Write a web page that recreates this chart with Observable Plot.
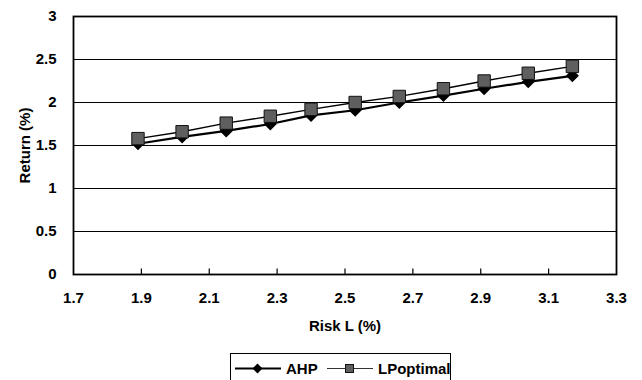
<!DOCTYPE html>
<html><head><meta charset="utf-8">
<script src="https://cdn.jsdelivr.net/npm/d3@7"></script>
<script src="https://cdn.jsdelivr.net/npm/@observablehq/plot@0.6"></script>
<style>
body{margin:0;background:#fff;overflow:hidden;}
#wrap{position:relative;width:642px;height:380px;font-family:"Liberation Sans",Arial,sans-serif;font-weight:bold;}
#legend{position:absolute;left:230px;top:353px;width:221px;height:40px;border:1.5px solid #000;box-sizing:border-box;background:#fff;}
#legend .item{position:absolute;top:5px;display:flex;align-items:center;font-size:15px;line-height:18px;}
#legend svg{display:block;}
</style>
</head><body>
<div id="wrap"><div id="chart"></div><div id="legend"></div></div>
<script>
const risk = [1.89, 2.02, 2.15, 2.28, 2.40, 2.53, 2.66, 2.79, 2.91, 3.04, 3.17];
const ahp = [1.52, 1.60, 1.67, 1.75, 1.85, 1.91, 2.00, 2.08, 2.16, 2.24, 2.31];
const lpOptimal = [1.58, 1.66, 1.76, 1.84, 1.92, 2.00, 2.07, 2.16, 2.25, 2.34, 2.42];
const seriesNames = ["AHP", "LPoptimal"];
const xTicks = [1.7, 1.9, 2.1, 2.3, 2.5, 2.7, 2.9, 3.1, 3.3];
const yTicks = [0, 0.5, 1, 1.5, 2, 2.5, 3];

const dataAHP = risk.map((x, i) => ({x, y: ahp[i], s: seriesNames[0]}));
const dataLP = risk.map((x, i) => ({x, y: lpOptimal[i], s: seriesNames[1]}));

const diamond = {draw(ctx, size){const r = Math.sqrt(size/Math.PI); ctx.moveTo(0,-r); ctx.lineTo(r,0); ctx.lineTo(0,r); ctx.lineTo(-r,0); ctx.closePath();}};
const square = {draw(ctx, size){const r = Math.sqrt(size/Math.PI); ctx.rect(-r,-r,2*r,2*r);}};

const font = '"Liberation Sans", Arial, sans-serif';
const chart = Plot.plot({
  width: 642, height: 348,
  marginTop: 16, marginBottom: 74, marginLeft: 73, marginRight: 26,
  x: {domain: [1.7, 3.3]},
  y: {domain: [0, 3]},
  style: {fontFamily: font, fontSize: "15px", fontWeight: "bold", color: "#000", background: "#fff"},
  marks: [
    Plot.ruleY(yTicks, {stroke: "#000", strokeWidth: 1.1}),
    Plot.ruleX(xTicks.slice(1, -1), {y1: 0, y2: 0.065, stroke: "#000", strokeWidth: 1.2}),
    Plot.frame({stroke: "#000", strokeWidth: 1.8}),
    Plot.axisX({ticks: xTicks, tickSize: 0, tickPadding: 18, tickFormat: d => d.toFixed(1),
      label: "Risk L (%)", labelAnchor: "center", labelArrow: "none", labelOffset: 56}),
    Plot.axisY({ticks: yTicks, tickSize: 0, tickPadding: 17, tickFormat: d => String(d),
      label: "Return (%)", labelAnchor: "center", labelArrow: "none", labelOffset: 54}),
    Plot.line(dataAHP, {x: "x", y: "y", stroke: "#000", strokeWidth: 2.2}),
    Plot.dot(dataAHP, {x: "x", y: "y", symbol: diamond, r: 6.5, fill: "#000", stroke: "none"}),
    Plot.line(dataLP, {x: "x", y: "y", stroke: "#000", strokeWidth: 1.3}),
    Plot.dot(dataLP, {x: "x", y: "y", symbol: square, r: 6.2, fill: "#5f5f5f", stroke: "#111", strokeWidth: 1})
  ]
});
document.getElementById("chart").appendChild(chart);

// legend
const legend = document.getElementById("legend");
const items = [
  {name: seriesNames[0], left: 4, lineW: 2, stroke: "#000", marker: '<path d="M22.5,4.5 L27.5,9.5 L22.5,14.5 L17.5,9.5Z" fill="#000"/>'},
  {name: seriesNames[1], left: 96, lineW: 1.2, stroke: "#333", marker: '<rect x="18.5" y="5.5" width="8" height="8" fill="#5f5f5f" stroke="#111" stroke-width="1"/>'}
];
items.forEach(it => {
  const d = document.createElement("div");
  d.className = "item";
  d.style.left = it.left + "px";
  d.innerHTML = `<svg width="46" height="19"><line x1="0" x2="46" y1="9.5" y2="9.5" stroke="${it.stroke}" stroke-width="${it.lineW}"/>${it.marker}</svg><span style="margin-left:5px">${it.name}</span>`;
  legend.appendChild(d);
});
</script>
</body></html>
